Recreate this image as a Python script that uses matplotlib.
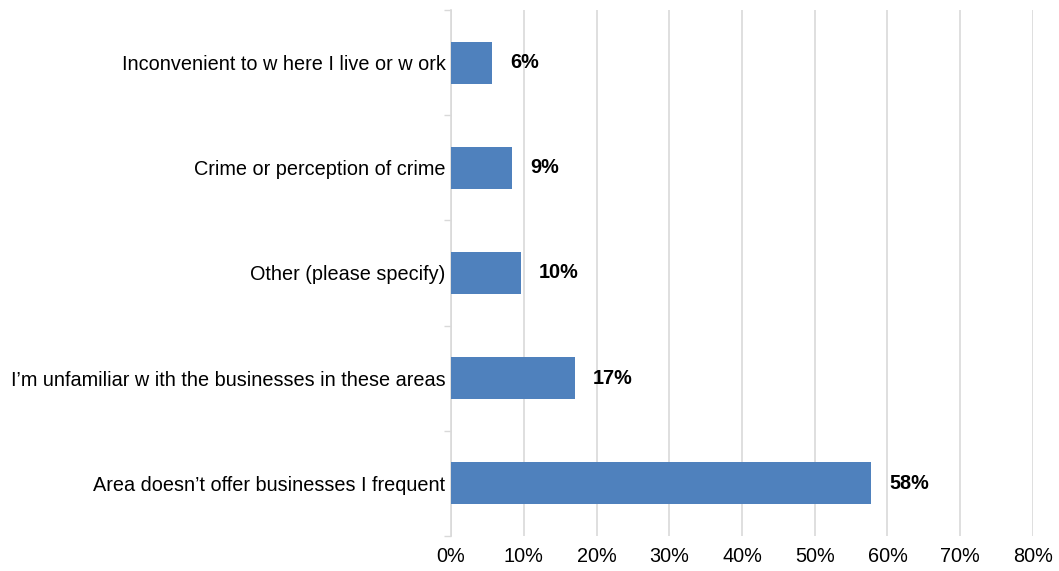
import numpy as np
import matplotlib.pyplot as plt
from matplotlib.ticker import FixedLocator, NullFormatter

plt.rcParams['font.family'] = ['Liberation Sans', 'DejaVu Sans']

categories = [
	"Area doesn\u2019t offer businesses I frequent",
	"I\u2019m unfamiliar w ith the businesses in these areas",
	"Other (please specify)",
	"Crime or perception of crime",
	"Inconvenient to w here I live or w ork",
]
values = [57.8, 17.0, 9.6, 8.4, 5.6]
labels = ["58%", "17%", "10%", "9%", "6%"]
x_ticks = [0, 10, 20, 30, 40, 50, 60, 70, 80]

def main():
	fig = plt.figure(figsize=(10.59, 5.71), dpi=100)
	ax = fig.add_axes([0.4259, 0.0613, 0.5495, 0.9212])
	y = np.arange(len(categories))
	ax.barh(y, values, height=0.4, color="#4f81bd", zorder=3)
	for yi, v, lab in zip(y, values, labels):
		ax.annotate(lab, (v, yi), xytext=(13, 0), textcoords="offset points",
			va="center", ha="left", fontsize=14.3, fontweight="bold", color="black")
	ax.set_xlim(0, 80)
	ax.set_ylim(-0.5, len(categories) - 0.5)
	ax.set_xticks(x_ticks)
	ax.set_xticklabels([f"{t}%" for t in x_ticks], fontsize=14.3)
	ax.set_yticks(y)
	ax.set_yticklabels(categories, fontsize=14.3)
	ax.tick_params(axis="x", length=0, pad=8)
	ax.tick_params(axis="y", which="major", length=0, pad=4)
	ax.yaxis.set_minor_locator(FixedLocator(np.arange(-0.5, len(categories), 1)))
	ax.yaxis.set_minor_formatter(NullFormatter())
	ax.tick_params(axis="y", which="minor", length=5, color="#d9d9d9", width=1)
	ax.grid(axis="x", color="#d9d9d9", linewidth=1.2, zorder=0)
	for s in ["top", "right", "bottom"]:
		ax.spines[s].set_visible(False)
	ax.spines["left"].set_color("#d9d9d9")
	ax.spines["left"].set_linewidth(1.2)
	fig.savefig("out.png", dpi=100)

if __name__ == "__main__":
	main()
